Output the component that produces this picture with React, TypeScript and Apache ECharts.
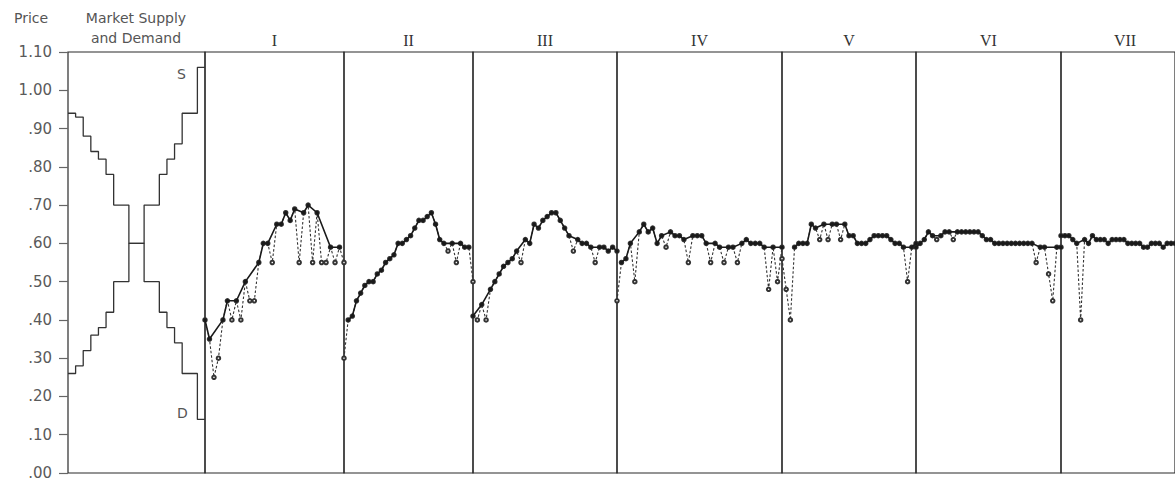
import React, { useEffect, useRef } from "react";
import * as echarts from "echarts";

// ---- data ----
const yTickLabels = [".00", ".10", ".20", ".30", ".40", ".50", ".60", ".70", ".80", ".90", "1.00", "1.10"];

const supplyPrices = [0.26, 0.28, 0.32, 0.36, 0.38, 0.42, 0.5, 0.6, 0.7, 0.78, 0.82, 0.86, 0.94, 1.06];
const supplyUnits = [1, 1, 1, 1, 1, 1, 2, 2, 2, 1, 1, 1, 2, 1];
const demandPrices = [0.94, 0.93, 0.88, 0.84, 0.82, 0.78, 0.7, 0.6, 0.5, 0.42, 0.38, 0.34, 0.26, 0.14];
const demandUnits = [1, 1, 1, 1, 1, 1, 2, 2, 2, 1, 1, 1, 2, 1];

const periodNames = ["I", "II", "III", "IV", "V", "VI", "VII"];

const pricesI = [0.40, 0.35, 0.25, 0.30, 0.40, 0.45, 0.40, 0.45, 0.40, 0.50, 0.45, 0.45, 0.55, 0.60, 0.60, 0.55, 0.65, 0.65, 0.68, 0.66, 0.69, 0.55, 0.68, 0.70, 0.55, 0.68, 0.55, 0.55, 0.59, 0.55, 0.59, 0.55];
const dipsI = [2, 3, 6, 8, 10, 11, 15, 21, 24, 26, 27, 29, 31];

const pricesII = [0.30, 0.40, 0.41, 0.45, 0.47, 0.49, 0.50, 0.50, 0.52, 0.53, 0.55, 0.56, 0.57, 0.60, 0.60, 0.61, 0.62, 0.64, 0.66, 0.66, 0.67, 0.68, 0.65, 0.61, 0.60, 0.58, 0.60, 0.55, 0.60, 0.59, 0.59, 0.50];
const dipsII = [0, 25, 27, 31];

const pricesIII = [0.41, 0.40, 0.44, 0.40, 0.48, 0.50, 0.52, 0.54, 0.55, 0.56, 0.58, 0.55, 0.61, 0.60, 0.65, 0.64, 0.66, 0.67, 0.68, 0.68, 0.66, 0.64, 0.62, 0.58, 0.61, 0.60, 0.60, 0.59, 0.55, 0.59, 0.59, 0.58, 0.59, 0.58];
const dipsIII = [1, 3, 11, 23, 28];

const pricesIV = [0.45, 0.55, 0.56, 0.60, 0.50, 0.63, 0.65, 0.63, 0.64, 0.60, 0.62, 0.59, 0.63, 0.62, 0.62, 0.61, 0.55, 0.62, 0.62, 0.62, 0.60, 0.55, 0.60, 0.59, 0.55, 0.59, 0.59, 0.55, 0.60, 0.61, 0.60, 0.60, 0.60, 0.59, 0.48, 0.59, 0.50, 0.59];
const dipsIV = [0, 4, 11, 16, 21, 24, 27, 34, 36];

const pricesV = [0.56, 0.48, 0.40, 0.59, 0.60, 0.60, 0.60, 0.65, 0.64, 0.61, 0.65, 0.61, 0.65, 0.65, 0.61, 0.65, 0.62, 0.62, 0.60, 0.60, 0.60, 0.61, 0.62, 0.62, 0.62, 0.62, 0.61, 0.60, 0.60, 0.59, 0.50, 0.59, 0.60];
const dipsV = [0, 1, 2, 9, 11, 14, 30];

const pricesVI = [0.59, 0.60, 0.61, 0.63, 0.62, 0.61, 0.62, 0.63, 0.63, 0.61, 0.63, 0.63, 0.63, 0.63, 0.63, 0.63, 0.62, 0.61, 0.61, 0.60, 0.60, 0.60, 0.60, 0.60, 0.60, 0.60, 0.60, 0.60, 0.60, 0.55, 0.59, 0.59, 0.52, 0.45, 0.59, 0.59];
const dipsVI = [5, 9, 29, 32, 33];

const pricesVII = [0.62, 0.62, 0.62, 0.61, 0.60, 0.40, 0.61, 0.60, 0.62, 0.61, 0.61, 0.61, 0.60, 0.61, 0.61, 0.61, 0.61, 0.60, 0.60, 0.60, 0.60, 0.59, 0.59, 0.60, 0.60, 0.60, 0.59, 0.60, 0.60, 0.60];
const dipsVII = [5];

// ---- layout ----
const panelEdges = [68, 205, 344, 473, 617, 782, 916, 1061, 1189];
const TOP = 52;
const HEIGHT = 421;

function stepPoints(prices: number[], units: number[]) {
  const pts: number[][] = [];
  let x = 0;
  prices.forEach((p, i) => {
    pts.push([x, p]);
    x += units[i];
    pts.push([x, p]);
  });
  return pts;
}

export default function App() {
  const ref = useRef<HTMLDivElement>(null);

  useEffect(() => {
    document.body.style.margin = "0";
    if (!ref.current) return;
    const chart = echarts.init(ref.current, undefined, { renderer: "svg" });

    const periods = [
      { prices: pricesI, dips: dipsI },
      { prices: pricesII, dips: dipsII },
      { prices: pricesIII, dips: dipsIII },
      { prices: pricesIV, dips: dipsIV },
      { prices: pricesV, dips: dipsV },
      { prices: pricesVI, dips: dipsVI },
      { prices: pricesVII, dips: dipsVII },
    ];

    const grids: any[] = [];
    for (let i = 0; i < panelEdges.length - 1; i++) {
      grids.push({
        left: panelEdges[i],
        width: panelEdges[i + 1] - panelEdges[i],
        top: TOP,
        height: HEIGHT,
        show: true,
        borderColor: "#2a2a2a",
        borderWidth: 1.2,
        backgroundColor: "transparent",
      });
    }

    const xAxes: any[] = [
      { type: "value", gridIndex: 0, min: 0, max: 18, show: false },
    ];
    const yAxes: any[] = [
      {
        type: "value",
        gridIndex: 0,
        min: 0,
        max: 1.1,
        interval: 0.1,
        axisLine: { show: false },
        axisTick: { show: true, length: 9, lineStyle: { color: "#666", width: 1.2 } },
        axisLabel: {
          margin: 16,
          color: "#5a5a5a",
          fontSize: 15,
          fontFamily: "DejaVu Sans",
          formatter: (v: number) => yTickLabels[Math.round(v * 10)] ?? "",
        },
        splitLine: { show: false },
      },
    ];

    const series: any[] = [
      {
        type: "line",
        xAxisIndex: 0,
        yAxisIndex: 0,
        data: stepPoints(supplyPrices, supplyUnits),
        symbol: "none",
        lineStyle: { color: "#333", width: 1.3 },
        silent: true,
      },
      {
        type: "line",
        xAxisIndex: 0,
        yAxisIndex: 0,
        data: stepPoints(demandPrices, demandUnits),
        symbol: "none",
        lineStyle: { color: "#333", width: 1.3 },
        silent: true,
      },
    ];

    periods.forEach((p, k) => {
      const gi = k + 1;
      xAxes.push({
        type: "category",
        gridIndex: gi,
        data: p.prices.map((_, i) => String(i + 1)),
        boundaryGap: false,
        show: false,
      });
      yAxes.push({ type: "value", gridIndex: gi, min: 0, max: 1.1, show: false });
      series.push({
        type: "line",
        xAxisIndex: gi,
        yAxisIndex: gi,
        data: p.prices,
        symbol: "emptyCircle",
        symbolSize: 3.5,
        showAllSymbol: true,
        lineStyle: { color: "#333", width: 1.1, type: [2.5, 2] },
        itemStyle: { color: "#333", borderWidth: 0.9 },
        z: 2,
        silent: true,
      });
      series.push({
        type: "line",
        xAxisIndex: gi,
        yAxisIndex: gi,
        data: p.prices.map((v, i) => (p.dips.includes(i) ? null : v)),
        connectNulls: true,
        symbol: "circle",
        symbolSize: 3.5,
        showAllSymbol: true,
        lineStyle: { color: "#1a1a1a", width: 1.6 },
        itemStyle: { color: "#1a1a1a" },
        z: 3,
        silent: true,
      });
    });

    const sansText = (text: string, x: number, y: number, align = "left") => ({
      type: "text",
      x,
      y,
      silent: true,
      style: {
        text,
        fill: "#555",
        fontSize: 14,
        fontFamily: "DejaVu Sans",
        align,
        verticalAlign: "top",
      },
    });

    const graphic: any[] = [
      sansText("Price", 14, 11),
      sansText("Market Supply", 136, 11, "center"),
      sansText("and Demand", 136, 31, "center"),
      sansText("S", 177, 67),
      sansText("D", 177, 406),
    ];
    periodNames.forEach((name, k) => {
      const cx = (panelEdges[k + 1] + panelEdges[k + 2]) / 2;
      graphic.push({
        type: "text",
        x: cx,
        y: 40,
        silent: true,
        style: {
          text: name,
          fill: "#333",
          fontSize: 16,
          fontFamily: "Liberation Serif",
          align: "center",
          verticalAlign: "middle",
        },
      });
    });

    chart.setOption({
      animation: false,
      backgroundColor: "#ffffff",
      grid: grids,
      xAxis: xAxes,
      yAxis: yAxes,
      series,
      graphic,
    });

    return () => chart.dispose();
  }, []);

  return <div ref={ref} style={{ width: 1175, height: 483 }} />;
}
